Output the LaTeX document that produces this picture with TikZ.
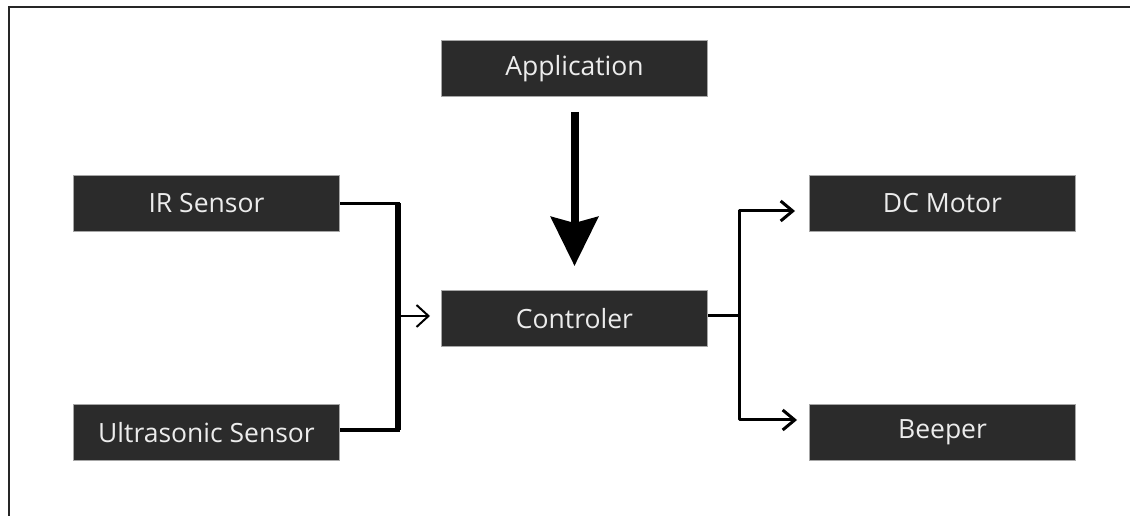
\documentclass[tikz,border=0pt]{standalone}
\usepackage{fontspec}
\setmainfont{Open Sans}
\usetikzlibrary{arrows.meta, positioning}
\definecolor{bloquex}{RGB}{43,43,43}
\definecolor{textox}{RGB}{236,236,236}
\tikzset{
  bloque/.style={rectangle, draw=black!35, fill=bloquex, line width=1pt,
    minimum width=266pt, minimum height=56pt, inner sep=0pt,
    text=textox, font=\fontsize{26.5}{30}\selectfont},
  marco/.style={line width=2.5pt, color=black!85},
  corchete/.style={line width=3.5pt, line join=miter},
  flecha/.style={-{Straight Barb[length=12pt, width=22pt]}, line width=2pt},
  flechader/.style={{Straight Barb[length=12pt, width=20pt]}-{Straight Barb[length=12pt, width=20pt]},
    line width=3pt, line join=round},
  flechagruesa/.style={-{Stealth[length=49pt, width=47pt, inset=6pt]}, line width=8pt}
}
\begin{document}
\begin{tikzpicture}
  \useasboundingbox (0,0) rectangle (1130pt,516pt);
  \draw[marco] (9pt,-5pt) -- (9pt,509pt) -- (1140pt,509pt);
  \node[bloque] (ctrl) at (574.5pt,197.5pt) {Controler};
  \node[bloque, above=193pt of ctrl] (app) {Application};
  \node[bloque, left=101pt of ctrl, yshift=115pt] (ir) {IR Sensor};
  \node[bloque, below=172pt of ir] (ultra) {Ultrasonic Sensor};
  \node[bloque, right=101pt of ctrl, yshift=115pt] (motor) {DC Motor};
  \node[bloque, below=172pt of motor] (beeper) {Beeper};
  \coordinate[right=58pt of ir.east] (izq);
  \coordinate[right=31pt of ctrl.east] (der);
  \draw[flechagruesa, shorten <=15pt, shorten >=24pt] (app) -- (ctrl);
  \draw[corchete] (ir.east) -- (ir.east -| izq) -- ([yshift=2.5pt]ultra.east -| izq)
    -- ([yshift=2.5pt]ultra.east);
  \draw[line width=6pt] (ir.east -| izq) -- ([yshift=2.5pt]ultra.east -| izq);
  \draw[flecha, shorten >=11pt] ([yshift=2.5pt]ctrl.west -| izq) -- ([yshift=2.5pt]ctrl.west);
  \draw[line width=3pt] ([yshift=2.5pt]ctrl.east) -- ([yshift=2.5pt]ctrl.east -| der);
  \draw[flechader, shorten <=14pt, shorten >=12pt] ([yshift=-7.5pt]motor.west)
    -- ([yshift=-7.5pt]motor.west -| der) -- ([yshift=12.5pt]beeper.west -| der)
    -- ([yshift=12.5pt]beeper.west);
\end{tikzpicture}
\end{document}
